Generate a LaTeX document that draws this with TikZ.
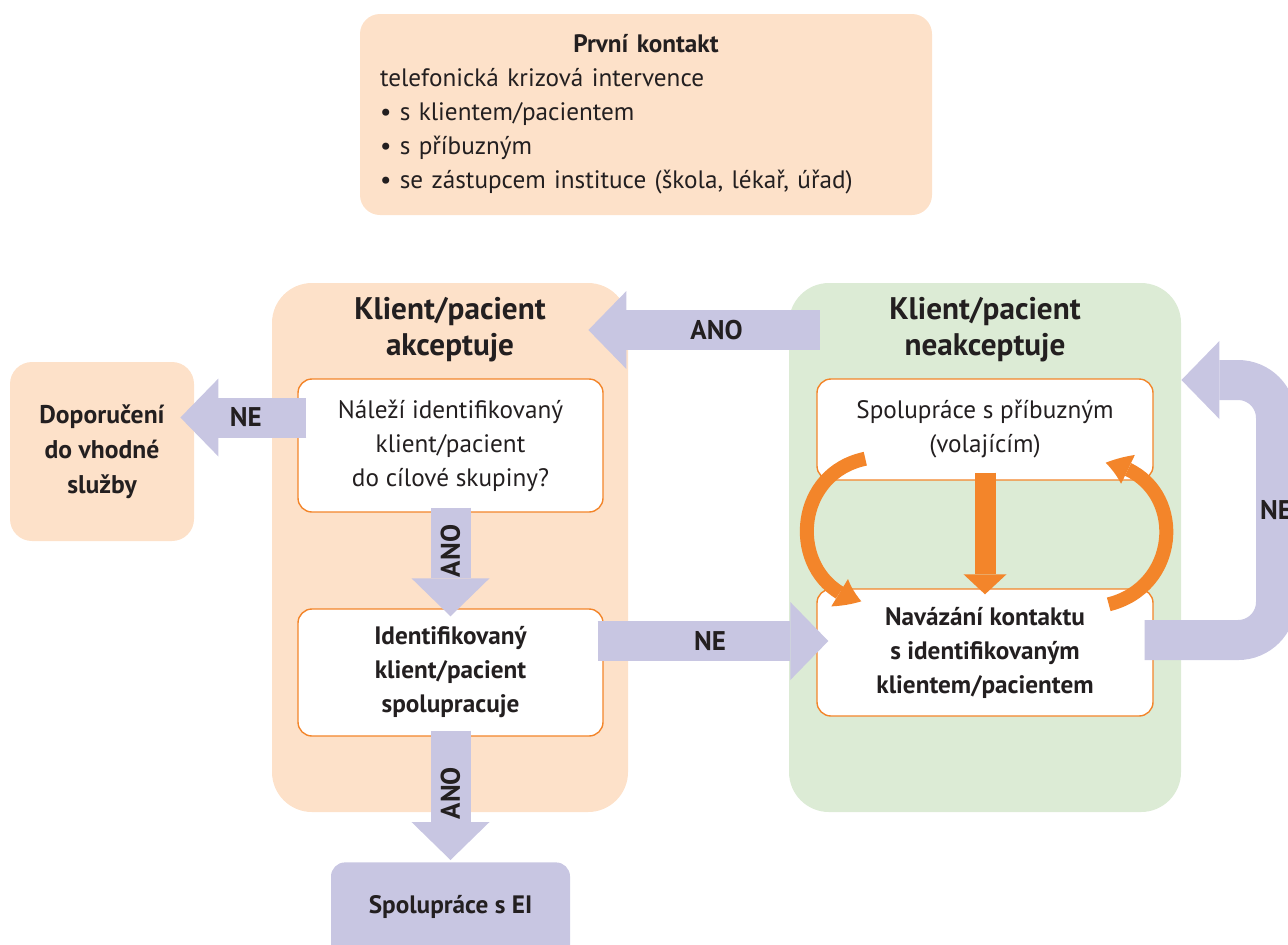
\documentclass[tikz,border=0pt]{standalone}
\usepackage{fontspec}
\setmainfont{PT Sans}
\usetikzlibrary{arrows.meta,bending,positioning}

\definecolor{peach}{HTML}{FDE1C9}
\definecolor{mint}{HTML}{DCEBD5}
\definecolor{lav}{HTML}{C8C6E2}
\definecolor{orng}{HTML}{F3852A}
\definecolor{ink}{HTML}{231F20}

\begin{document}
\begin{tikzpicture}[x=0.5pt, y=-0.5pt,
        every node/.style={text=ink, font=\fontsize{12.6}{17}\selectfont},
        panel/.style={rectangle, rounded corners=20pt, draw=none},
        ptitle/.style={align=center, font=\fontsize{15.6}{18}\selectfont\bfseries},
        wbox/.style={rectangle, rounded corners=7pt, draw=orng, line width=0.7pt, fill=white, align=center},
        pbox/.style={rectangle, rounded corners=11pt, fill=peach, align=center, font=\fontsize{12.8}{17.5}\selectfont\bfseries},
        lbox/.style={rectangle, rounded corners=7pt, fill=lav},
        lbl/.style={font=\fontsize{13.5}{13.5}\selectfont\bfseries},
        fat/.style={draw=lav, line width=20pt, -{Triangle[length=19pt, width=39pt, line width=0pt]}},
        odown/.style={draw=orng, line width=10.5pt, -{Triangle[length=10pt, width=21.5pt, line width=0pt]}},
        ocurve/.style={draw=orng, line width=7pt, -{Triangle[length=12pt, width=16pt, line width=0pt, bend]}}
    ]
        \useasboundingbox (0,0) rectangle (1288,944);

        % first contact
        \node[rectangle, rounded corners=10pt, fill=peach, text width=266pt, inner xsep=10pt,
              minimum height=100.5pt, align=left] (prvni) at (646,114.5)
            {{\centering\bfseries První kontakt\par}
             telefonická krizová intervence\\
             • s klientem/pacientem\\
             • s příbuzným\\
             • se zástupcem instituce (škola, lékař, úřad)};

        % two panels
        \node[panel, fill=peach, minimum width=178pt, minimum height=264.5pt] (akcP) at (450,547.5) {};
        \node[ptitle] (akcT) at (450,330) {Klient/pacient\\akceptuje};
        \node[panel, fill=mint, minimum width=196pt, minimum height=264.5pt] (nakP) at (985,547.5) {};
        \node[ptitle] (nakT) at (985,330) {Klient/pacient\\neakceptuje};

        \node[wbox, minimum width=152.5pt, minimum height=66.5pt] (cil) at (450.5,445.5)
            {Náleží identifikovaný\\klient/pacient\\do cílové skupiny?};
        \node[wbox, font=\fontsize{12.6}{17}\selectfont\bfseries, minimum width=152.5pt, minimum height=63.5pt] (ident) at (450.5,672.5)
            {Identifikovaný\\klient/pacient\\spolupracuje};
        \node[wbox, minimum width=168pt, minimum height=50.5pt] (sprp) at (985,429.5)
            {Spolupráce s příbuzným\\(volajícím)};
        \node[wbox, font=\fontsize{12.6}{17}\selectfont\bfseries, minimum width=168pt, minimum height=63.5pt] (navaz) at (985,652.5)
            {Navázání kontaktu\\s identifikovaným\\klientem/pacientem};

        \node[pbox, minimum width=92pt, minimum height=89.5pt] (dop) at (102,451.5)
            {Doporučení\\do vhodné\\služby};
        \node[lbox, minimum width=119.5pt, minimum height=60pt, anchor=north] (spoEI) at (450.5,862) {};
        \node[font=\fontsize{12.6}{17}\selectfont\bfseries] (spoEIt) at (450.5,907) {Spolupráce s EI};

        % fat arrows
        \draw[fat, shorten <=-15.5pt, shorten >=-20pt] (nakP.west |- akcT) -- node[lbl, pos=0.45]{ANO} (akcP.east |- akcT);
        \draw[fat, shorten <=-4.5pt, shorten >=-7pt] ([yshift=14pt]cil.west) -- node[lbl]{NE} ([yshift=14pt]cil.west -| dop.east);
        \draw[fat, shorten <=-2.5pt, shorten >=-4pt] (cil.south) -- node[lbl, rotate=90, pos=0.4]{ANO} (ident.north);
        \draw[fat, shorten <=-3pt, shorten >=1pt] (ident.south) -- node[lbl, rotate=90, pos=0.45]{ANO} (spoEI.north);
        \draw[fat, shorten <=-3pt, shorten >=-6pt] ([yshift=15.75pt]ident.east) -- node[lbl]{NE} ([yshift=15.75pt]ident.east -| navaz.west);
        \coordinate (loopC) at (1276,380);
        \draw[fat, rounded corners=19pt, shorten <=-4.5pt] ([yshift=6.25pt]navaz.east) -| node[lbl, pos=0.75]{NE} (loopC) -- (nakP.east |- loopC);

        % orange arrows
        \draw[odown, shorten <=-4pt, shorten >=-3pt] (sprp.south) -- (navaz.north);
        \draw[ocurve] ([xshift=24.5pt,yshift=11pt]sprp.south west) .. controls (788,475) and (788,585) .. ([xshift=22.5pt,yshift=-6.5pt]navaz.north west);
        \draw[ocurve] ([xshift=-22.5pt,yshift=-8pt]navaz.north east) .. controls (1186,585) and (1186,475) .. ([xshift=-24pt,yshift=9pt]sprp.south east);
\end{tikzpicture}
\end{document}
